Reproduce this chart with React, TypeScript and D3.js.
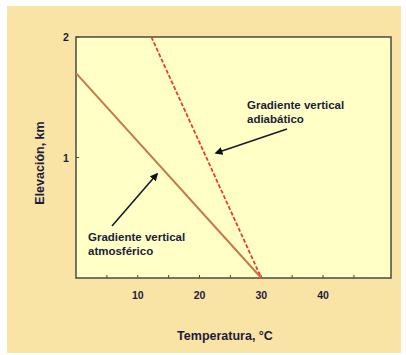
import React, { useRef, useEffect } from 'react';
import * as d3 from 'd3';

// temperature (°C) vs elevation (km)
const atmosferico: [number, number][] = [[0, 1.7], [30, 0]];
const adiabatico: [number, number][] = [[12.2, 2], [30, 0]];
const xTicks = [10, 20, 30, 40];
const xMinor = [5, 10, 15, 20, 25, 30, 35, 40, 45];
const yTicks = [1, 2];
const labelAdiabatico = ['Gradiente vertical', 'adiabático'];
const labelAtmosferico = ['Gradiente vertical', 'atmosférico'];

const App = () => {
  const ref = useRef<SVGSVGElement>(null);

  useEffect(() => {
    const svg = d3.select(ref.current)
      .attr('width', 406)
      .attr('height', 355)
      .style('background-color', 'white');

    svg.selectAll('*').remove();

    const font = 'Liberation Sans, Arial, sans-serif';
    const textColor = '#1c1c3a';

    svg.append('rect')
      .attr('x', 7).attr('y', 6).attr('width', 394).attr('height', 347)
      .attr('fill', '#f9e4a6');

    const left = 76, top = 37, right = 391, bottom = 278;

    const xScale = d3.scaleLinear().domain([0, 51]).range([left, right]);
    const yScale = d3.scaleLinear().domain([0, 2]).range([bottom, top]);

    svg.append('rect')
      .attr('x', left).attr('y', top)
      .attr('width', right - left).attr('height', bottom - top)
      .attr('fill', '#ffffc6')
      .attr('stroke', '#4a4a40')
      .attr('stroke-width', 1.5);

    // minor ticks along the bottom
    svg.append('g').selectAll('line')
      .data(xMinor)
      .enter()
      .append('line')
      .attr('x1', d => xScale(d)).attr('x2', d => xScale(d))
      .attr('y1', bottom).attr('y2', bottom - 3)
      .attr('stroke', '#4a4a40').attr('stroke-width', 1);

    svg.append('g').selectAll('text')
      .data(xTicks)
      .enter()
      .append('text')
      .attr('x', d => xScale(d))
      .attr('y', 299)
      .attr('text-anchor', 'middle')
      .style('font-family', font)
      .style('font-size', '10.5px')
      .style('font-weight', 'bold')
      .attr('fill', textColor)
      .text(d => d);

    svg.append('g').selectAll('text')
      .data(yTicks)
      .enter()
      .append('text')
      .attr('x', 66)
      .attr('y', d => yScale(d) + 4)
      .attr('text-anchor', 'middle')
      .style('font-family', font)
      .style('font-size', '10.5px')
      .style('font-weight', 'bold')
      .attr('fill', textColor)
      .text(d => d);

    svg.append('g').selectAll('line')
      .data(yTicks)
      .enter()
      .append('line')
      .attr('x1', left).attr('x2', left + 3)
      .attr('y1', d => yScale(d)).attr('y2', d => yScale(d))
      .attr('stroke', '#4a4a40');

    const line = d3.line<[number, number]>()
      .x(d => xScale(d[0]))
      .y(d => yScale(d[1]));

    svg.append('path')
      .datum(atmosferico)
      .attr('d', line)
      .attr('fill', 'none')
      .attr('stroke', '#c8784a')
      .attr('stroke-width', 2);

    svg.append('path')
      .datum(adiabatico)
      .attr('d', line)
      .attr('fill', 'none')
      .attr('stroke', '#f03a2a')
      .attr('stroke-width', 1.8)
      .attr('stroke-dasharray', '4,2');

    // arrows
    const defs = svg.append('defs');
    defs.append('marker')
      .attr('id', 'head')
      .attr('viewBox', '0 0 10 10')
      .attr('refX', 8).attr('refY', 5)
      .attr('markerWidth', 5).attr('markerHeight', 5)
      .attr('orient', 'auto')
      .append('path')
      .attr('d', 'M0,0L10,5L0,10z')
      .attr('fill', '#111');

    const arrows = [
      { x1: 287, y1: 129, x2: 216, y2: 153 },
      { x1: 112, y1: 226, x2: 157, y2: 174 },
    ];
    svg.append('g').selectAll('line')
      .data(arrows)
      .enter()
      .append('line')
      .attr('x1', d => d.x1).attr('y1', d => d.y1)
      .attr('x2', d => d.x2).attr('y2', d => d.y2)
      .attr('stroke', '#1a1a2a')
      .attr('stroke-width', 1.6)
      .attr('marker-end', 'url(#head)');

    const addLabel = (lines: string[], x: number, y: number) => {
      const t = svg.append('text')
        .attr('x', x).attr('y', y)
        .style('font-family', font)
        .style('font-size', '11.5px')
        .style('font-weight', 'bold')
        .attr('fill', textColor);
      lines.forEach((s, i) => {
        t.append('tspan').attr('x', x).attr('dy', i === 0 ? 0 : 14).text(s);
      });
    };
    addLabel(labelAdiabatico, 247, 109);
    addLabel(labelAtmosferico, 88, 241);

    svg.append('text')
      .attr('x', 225).attr('y', 340)
      .attr('text-anchor', 'middle')
      .style('font-family', font)
      .style('font-size', '12.5px')
      .style('font-weight', 'bold')
      .attr('fill', textColor)
      .text('Temperatura, °C');

    svg.append('g')
      .attr('transform', 'translate(44, 163)')
      .append('text')
      .attr('transform', 'rotate(-90)')
      .attr('text-anchor', 'middle')
      .style('font-family', font)
      .style('font-size', '12.5px')
      .style('font-weight', 'bold')
      .attr('fill', textColor)
      .text('Elevación, km');
  }, []);

  return (
    <div style={{ position: 'fixed', top: 0, left: 0 }}>
      <svg ref={ref}></svg>
    </div>
  );
};

export default App;
